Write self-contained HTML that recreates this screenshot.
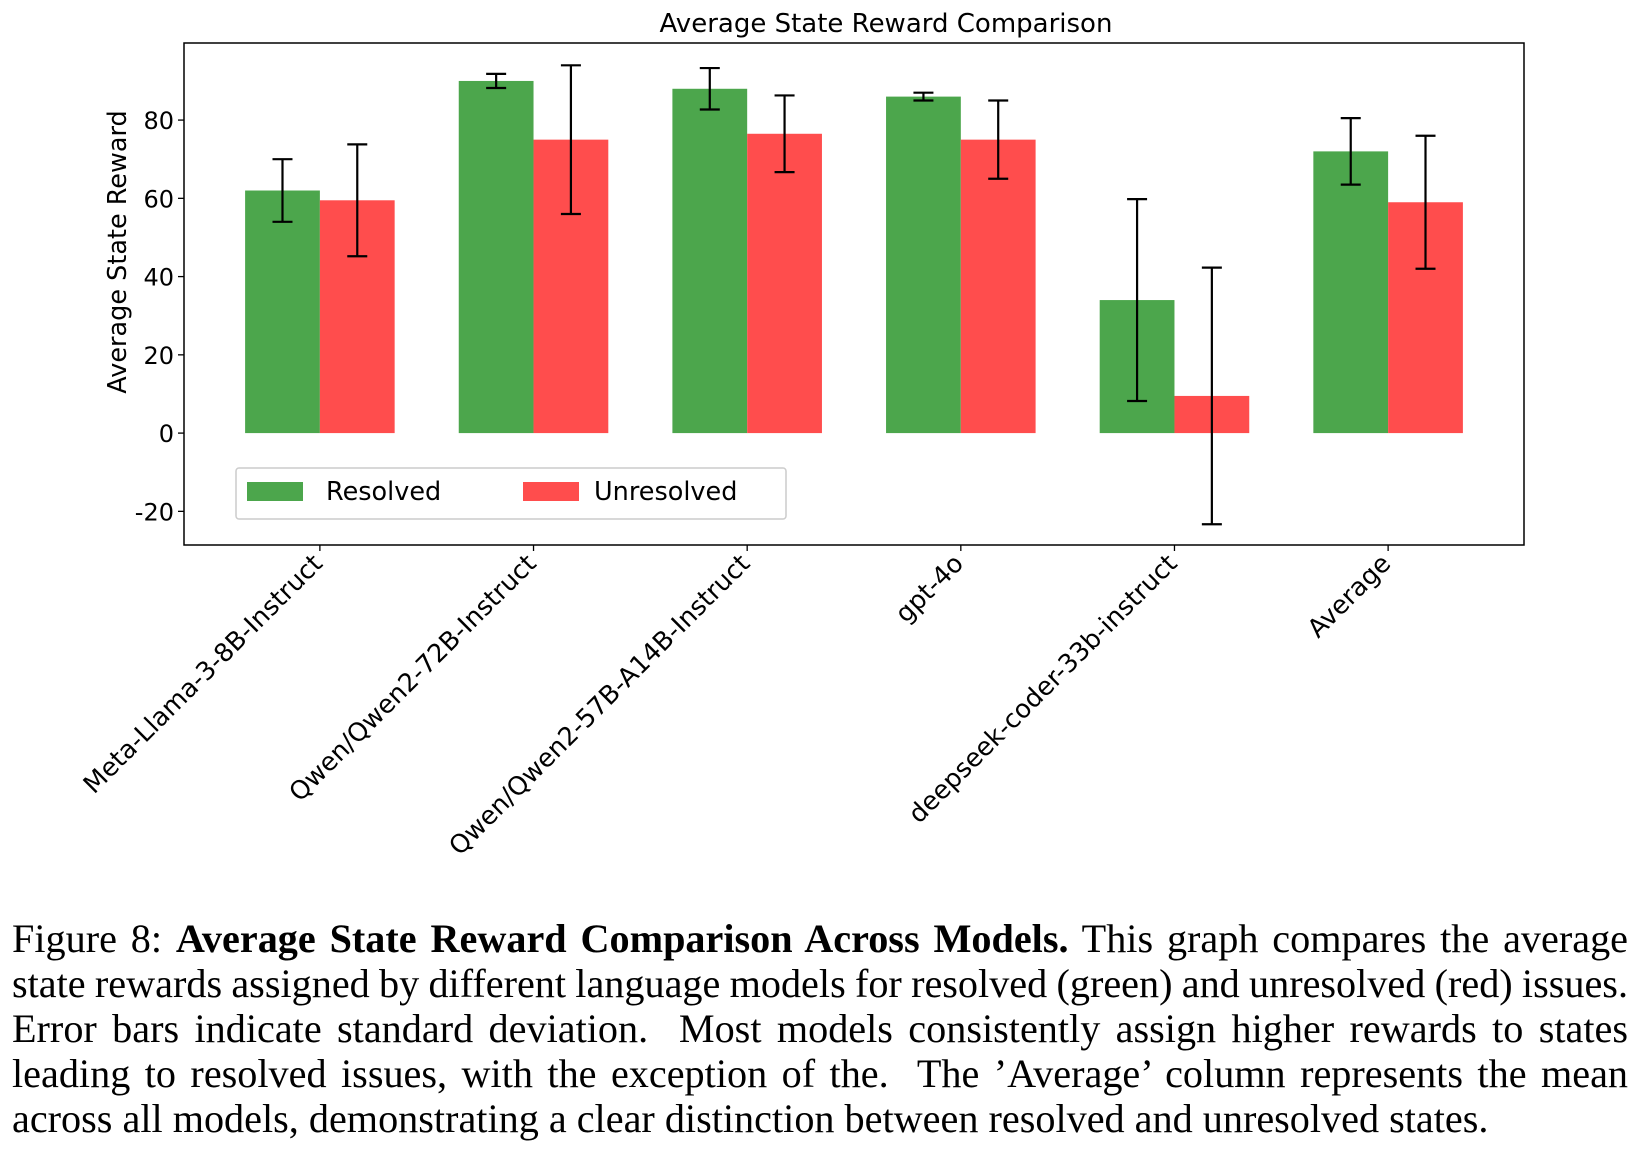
<!DOCTYPE html>
<html><head><meta charset="utf-8"><style>
html,body{margin:0;padding:0;background:#fff;}
body{width:1647px;height:1149px;position:relative;overflow:hidden;font-family:"DejaVu Sans",sans-serif;}
.cap{position:absolute;left:12px;width:1616px;font-family:"Liberation Serif",serif;font-size:40.2px;line-height:45px;text-align:justify;text-align-last:justify;white-space:nowrap;color:#000;word-spacing:-1px;}
.cap.last{text-align-last:left;word-spacing:0;}
</style></head><body>
<svg id="chart" width="1647" height="880" style="position:absolute;left:0;top:0" xmlns="http://www.w3.org/2000/svg"></svg>
<div>
<div class="cap" style="top:916px">Figure 8: <b>Average State Reward Comparison Across Models.</b> This graph compares the average</div>
<div class="cap" style="top:961px">state rewards assigned by different language models for resolved (green) and unresolved (red) issues.</div>
<div class="cap" style="top:1006px">Error bars indicate standard deviation.&nbsp; Most models consistently assign higher rewards to states</div>
<div class="cap" style="top:1051px">leading to resolved issues, with the exception of the.&nbsp; The ’Average’ column represents the mean</div>
<div class="cap last" style="top:1096px">across all models, demonstrating a clear distinction between resolved and unresolved states.</div>
</div>
<script>
const categories=["Meta-Llama-3-8B-Instruct","Qwen/Qwen2-72B-Instruct","Qwen/Qwen2-57B-A14B-Instruct","gpt-4o","deepseek-coder-33b-instruct","Average"];
const resolved=[62,90,88,86,34,72];
const resolvedErr=[8,1.8,5.3,1,25.8,8.5];
const unresolved=[59.5,75,76.5,75,9.5,59];
const unresolvedErr=[14.3,19,9.8,10,32.8,17];
const yTicks=[-20,0,20,40,60,80];

const svg=document.getElementById('chart');
const NS='http://www.w3.org/2000/svg';
const FF='DejaVu Sans, sans-serif';
const L=184,R=1524,T=43,B=545;
const yMin=-28.6,yMax=99.7,xMin=-0.636,xMax=categories.length-1+0.636;
const y=v=>B-(v-yMin)/(yMax-yMin)*(B-T);
const x=v=>L+(v-xMin)/(xMax-xMin)*(R-L);
const bw=0.35;
function mk(tag,attrs,parent){const e=document.createElementNS(NS,tag);for(const k in attrs)e.setAttribute(k,attrs[k]);(parent||svg).appendChild(e);return e;}

const title=mk('text',{x:886,y:32,'text-anchor':'middle','font-size':'26','font-family':FF});


title.textContent='Average State Reward Comparison';

const yl=mk('text',{transform:`translate(126,252) rotate(-90)`,'text-anchor':'middle','font-size':'25.5','font-family':FF});


yl.textContent='Average State Reward';

yTicks.forEach(t=>{
  const g=mk('g',{});
  
  
  mk('line',{x1:L-6,x2:L,y1:y(t),y2:y(t),stroke:'#000','stroke-width':1.3},g);
  const tx=mk('text',{x:L-10,y:y(t)+9,'text-anchor':'end','font-size':'24','font-family':FF},g);
  tx.textContent=t;
});

function errbar(cx,v,e,parent){
  mk('line',{x1:cx,x2:cx,y1:y(v-e),y2:y(v+e),stroke:'#000','stroke-width':2.2},parent);
  mk('line',{x1:cx-10,x2:cx+10,y1:y(v-e),y2:y(v-e),stroke:'#000','stroke-width':2.2},parent);
  mk('line',{x1:cx-10,x2:cx+10,y1:y(v+e),y2:y(v+e),stroke:'#000','stroke-width':2.2},parent);
}
categories.forEach((c,i)=>{
  const g1=mk('rect',{x:x(i-bw),y:Math.min(y(resolved[i]),y(0)),width:x(bw)-x(0),height:Math.abs(y(0)-y(resolved[i])),fill:'#4ca64c'});
  
  
  const r1=mk('rect',{x:x(i),y:Math.min(y(unresolved[i]),y(0)),width:x(bw)-x(0),height:Math.abs(y(0)-y(unresolved[i])),fill:'#ff4d4d'});
  
  
});
categories.forEach((c,i)=>{
  const e1=mk('g',{});
  
  
  errbar(x(i-bw/2),resolved[i],resolvedErr[i],e1);
  const e2=mk('g',{});
  
  
  errbar(x(i+bw/2),unresolved[i],unresolvedErr[i],e2);
  const g=mk('g',{});
  
  
  mk('line',{x1:x(i),x2:x(i),y1:B,y2:B+6,stroke:'#000','stroke-width':1.3},g);
  const tx=mk('text',{transform:`translate(${x(i)+4},${B+20}) rotate(-45)`,'text-anchor':'end','font-size':'25.5','font-family':FF},g);
  tx.textContent=c;
});
const frame=mk('rect',{x:L,y:T,width:R-L,height:B-T,fill:'none',stroke:'#000','stroke-width':1.5});



const lg=mk('g',{});


mk('rect',{x:236,y:468,width:550,height:51,rx:3,fill:'#fff',stroke:'#ccc','stroke-width':1.5},lg);
const le1=mk('g',{},lg);


mk('rect',{x:247,y:482,width:56,height:19,fill:'#4ca64c'},le1);
const t1=mk('text',{x:326,y:500,'font-size':'25.5','font-family':FF},le1);t1.textContent='Resolved';
const le2=mk('g',{},lg);


mk('rect',{x:523,y:482,width:56,height:19,fill:'#ff4d4d'},le2);
const t2=mk('text',{x:594,y:500,'font-size':'25.5','font-family':FF},le2);t2.textContent='Unresolved';
</script>
</body></html>
